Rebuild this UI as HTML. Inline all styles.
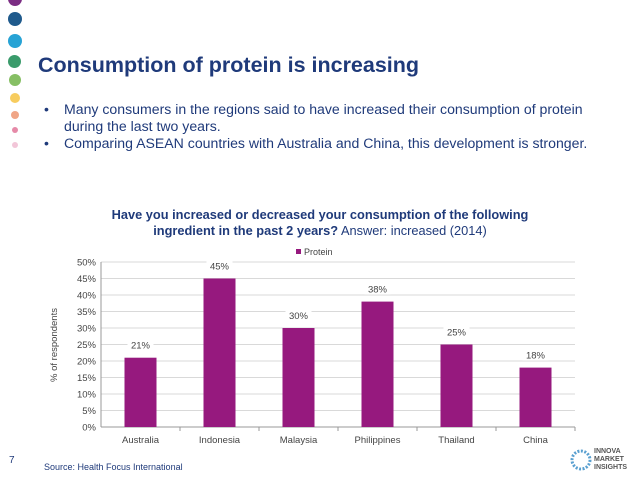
<!DOCTYPE html>
<html><head><meta charset="utf-8"><style>
body{margin:0;width:638px;height:479px;background:#fff;position:relative;overflow:hidden;font-family:"Liberation Sans",sans-serif}
.dot{position:absolute;border-radius:50%}
.bl{position:absolute;font-size:14.1px;color:#1f3a7a;white-space:nowrap}
</style></head><body>
<div>
<div class="dot" style="left:8px;top:-8px;width:14px;height:14px;background:#7b2d83"></div>
<div class="dot" style="left:8px;top:12px;width:14px;height:14px;background:#1f5a8c"></div>
<div class="dot" style="left:8px;top:34px;width:14px;height:14px;background:#27a3d5"></div>
<div class="dot" style="left:8px;top:55px;width:13px;height:13px;background:#3a9b6b"></div>
<div class="dot" style="left:9px;top:74px;width:12px;height:12px;background:#86bf64"></div>
<div class="dot" style="left:10px;top:93px;width:10px;height:10px;background:#f7cc5e"></div>
<div class="dot" style="left:11px;top:111px;width:8px;height:8px;background:#f0a586"></div>
<div class="dot" style="left:12px;top:127px;width:6px;height:6px;background:#e68aa8"></div>
<div class="dot" style="left:12px;top:142px;width:6px;height:6px;background:#f2c6d8"></div>
</div>
<div style="position:absolute;left:38px;top:53px;font-size:21.5px;font-weight:bold;color:#1f3a7a;white-space:nowrap">Consumption of protein is increasing</div>
<div>
<div class="bl" style="left:44px;top:101px">•</div>
<div class="bl" style="left:64px;top:101px">Many consumers in the regions said to have increased their consumption of protein</div>
<div class="bl" style="left:64px;top:118px">during the last two years.</div>
<div class="bl" style="left:44px;top:135px">•</div>
<div class="bl" style="left:64px;top:135px">Comparing ASEAN countries with Australia and China, this development is stronger.</div>
</div>
<svg width="638" height="479" style="position:absolute;left:0;top:0" font-family="Liberation Sans, sans-serif">
<text x="320" y="219" text-anchor="middle" font-size="12.8" font-weight="bold" fill="#1f3a7a">Have you increased or decreased your consumption of the following</text>
<text x="320" y="235" text-anchor="middle" font-size="12.8" fill="#1f3a7a"><tspan font-weight="bold">ingredient in the past 2 years?</tspan> Answer: increased (2014)</text>
<rect x="296" y="249" width="5" height="5" fill="#96197e"/>
<text x="304" y="255" font-size="9" fill="#444">Protein</text>
<text transform="translate(57,345) rotate(-90)" text-anchor="middle" font-size="9.5" fill="#444">% of respondents</text>
<g id="chart"></g>
<text x="44" y="470" font-size="9" fill="#1f3a7a">Source: Health Focus International</text>
<text x="9" y="463" font-size="10" fill="#1f3a7a">7</text>
<g>
<circle cx="581" cy="460" r="9" fill="none" stroke="#5aa0d0" stroke-width="3" stroke-dasharray="2 1.5"/>
<text x="594" y="453" font-size="7" font-weight="bold" fill="#555">INNOVA</text>
<text x="594" y="461" font-size="7" font-weight="bold" fill="#555">MARKET</text>
<text x="594" y="469" font-size="7" font-weight="bold" fill="#555">INSIGHTS</text>
</g>
</svg>
<script>
const categories=["Australia","Indonesia","Malaysia","Philippines","Thailand","China"];
const values=[21,45,30,38,25,18];
const yTicks=[0,5,10,15,20,25,30,35,40,45,50];
const g=document.getElementById('chart');
const NS='http://www.w3.org/2000/svg';
const x0=101,x1=575,y0=427,y1=262;
const bw=(x1-x0)/categories.length;
const ys=v=>y0-(v/50)*(y0-y1);
function mk(t,a){const e=document.createElementNS(NS,t);for(const k in a)e.setAttribute(k,a[k]);g.appendChild(e);return e;}
yTicks.forEach(t=>{
 if(t>0){const l=mk('line',{x1:x0,x2:x1,y1:ys(t),y2:ys(t),stroke:'#d9d9d9','stroke-width':1});
 
 }
 const tx=mk('text',{x:x0-5,y:ys(t)+3.5,'text-anchor':'end','font-size':9.5,fill:'#444'});tx.textContent=t+'%';
 
 
});
mk('line',{x1:x0,x2:x0,y1:y1,y2:y0,stroke:'#999'});
mk('line',{x1:x0,x2:x1,y1:y0,y2:y0,stroke:'#999'});
categories.forEach((c,i)=>{
 const cx=x0+bw*(i+0.5);
 mk('line',{x1:x0+bw*(i+1),x2:x0+bw*(i+1),y1:y0,y2:y0+4,stroke:'#999'});
 const b=mk('rect',{x:cx-16,y:ys(values[i]),width:32,height:y0-ys(values[i]),fill:'#96197e'});
 
 
 mk('rect',{x:cx-13,y:ys(values[i])-19,width:26,height:12,fill:'#fff'});
 const v=mk('text',{x:cx,y:ys(values[i])-9,'text-anchor':'middle','font-size':9.5,fill:'#444'});v.textContent=values[i]+'%';
 
 
 const l=mk('text',{x:cx,y:y0+16,'text-anchor':'middle','font-size':9.5,fill:'#444'});l.textContent=c;
 
 
});
</script>
</body></html>
